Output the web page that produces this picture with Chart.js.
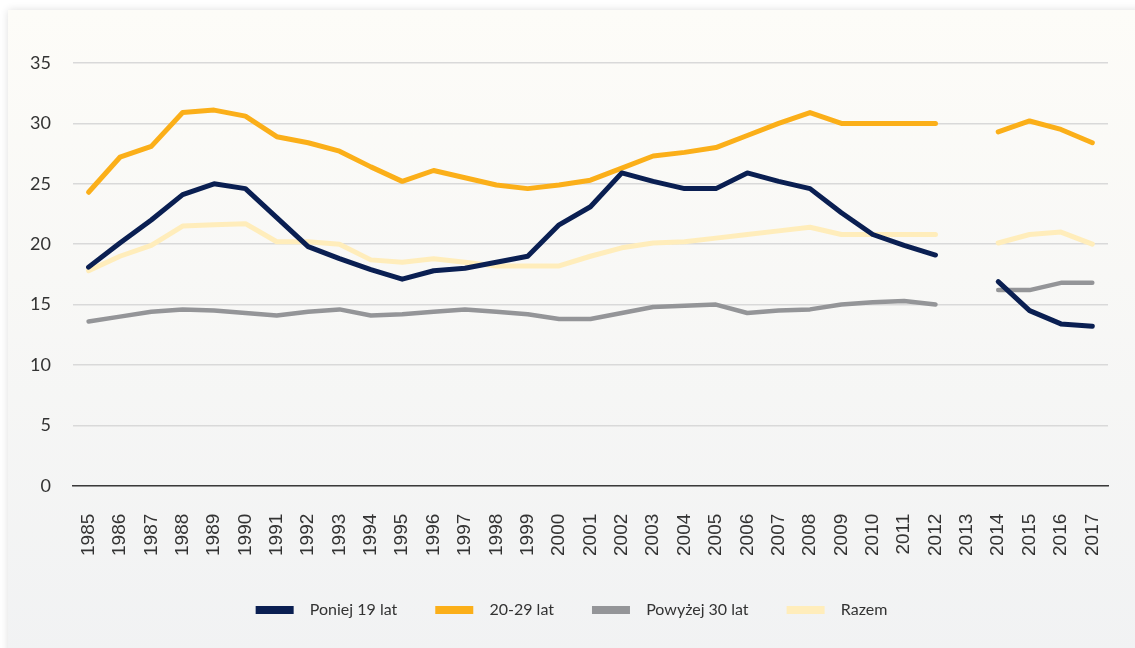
<!DOCTYPE html>
<html>
<head>
<meta charset="utf-8">
<script src="https://cdn.jsdelivr.net/npm/chart.js@4"></script>
<style>
  html, body { margin: 0; padding: 0; background: #ffffff; }
  #card {
    position: absolute; left: 8px; top: 10px; width: 1135px; height: 650px;
    background: linear-gradient(#fdfcf8, #f1f2f3);
    box-shadow: 0 0 8px rgba(0,0,0,0.13);
  }
  #wrap { position: absolute; left: 0; top: 0; width: 1135px; height: 648px; }
</style>
</head>
<body>
<div id="card"></div>
<div id="wrap"><canvas id="ageChart"></canvas></div>
<script>
// lata na osi x (2013 bez danych)
var years = ['1985','1986','1987','1988','1989','1990','1991','1992','1993','1994','1995','1996','1997','1998','1999','2000','2001','2002','2003','2004','2005','2006','2007','2008','2009','2010','2011','2012','2013','2014','2015','2016','2017'];
// serie
var under19 = [18.1,20.1,22.0,24.1,25.0,24.6,22.2,19.8,18.8,17.9,17.1,17.8,18.0,18.5,19.0,21.6,23.1,25.9,25.2,24.6,24.6,25.9,25.2,24.6,22.6,20.8,19.9,19.1,null,16.9,14.5,13.4,13.2];
var age2029 = [24.3,27.2,28.1,30.9,31.1,30.6,28.9,28.4,27.7,26.4,25.2,26.1,25.5,24.9,24.6,24.9,25.3,26.3,27.3,27.6,28.0,29.0,30.0,30.9,30.0,30.0,30.0,30.0,null,29.3,30.2,29.5,28.4];
var over30 = [13.6,14.0,14.4,14.6,14.5,14.3,14.1,14.4,14.6,14.1,14.2,14.4,14.6,14.4,14.2,13.8,13.8,14.3,14.8,14.9,15.0,14.3,14.5,14.6,15.0,15.2,15.3,15.0,null,16.2,16.2,16.8,16.8];
var total = [17.8,19.0,19.9,21.5,21.6,21.7,20.2,20.2,20.0,18.7,18.5,18.8,18.5,18.2,18.2,18.2,19.0,19.7,20.1,20.2,20.5,20.8,21.1,21.4,20.8,20.8,20.8,20.8,null,20.1,20.8,21.0,20.0];

function line(label, data, color, width) {
  return {
    label: label,
    data: data,
    borderColor: color,
    backgroundColor: color,
    borderWidth: width,
    borderCapStyle: 'round',
    borderJoinStyle: 'round',
    pointRadius: 0,
    tension: 0,
    spanGaps: false,
    fill: false
  };
}

var ctx = document.getElementById("ageChart");
var ageChart = new Chart(ctx, {
  type: 'line',
  data: {
    labels: years,
    datasets: [
      line('Poniej 19 lat', under19, '#0a1f52', 5),
      line('20-29 lat', age2029, '#fbaf19', 5),
      line('Powyżej 30 lat', over30, '#949598', 4.5),
      line('Razem', total, '#ffedbb', 5)
    ]
  },
  options: {
    responsive: true,
    maintainAspectRatio: false,
    animation: false,
    layout: { padding: { left: 8, right: 0, top: 63, bottom: 20 } },
    plugins: {
      tooltip: { enabled: false },
      legend: {
        position: 'bottom',
        labels: {
          boxWidth: 38,
          boxHeight: 8,
          padding: 38,
          color: '#333333',
          font: { family: 'Lato', size: 16 },
          generateLabels: function(chart) {
            var items = Chart.defaults.plugins.legend.labels.generateLabels(chart);
            items.forEach(function(it) { it.text = '  ' + it.text; it.lineWidth = 0; });
            return items;
          }
        }
      }
    },
    scales: {
      x: {
        offset: true,
        grid: { display: false, drawTicks: false },
        border: { display: true, color: '#3a3a3a', width: 1.5 },
        ticks: {
          autoSkip: false,
          maxRotation: 90,
          minRotation: 90,
          padding: 28,
          color: '#333333',
          font: { family: 'Liberation Sans', size: 19 }
        },
        afterFit: function(scale) {
          // padding counts twice in the axis height, take most of the lower one back
          scale.height -= 20;
          // plot ends 27px before the right edge
          scale.paddingRight = 27;
        }
      },
      y: {
        min: 0,
        max: 35,
        grid: { color: '#d9d9d9', lineWidth: 1.5, drawTicks: false },
        border: { display: false },
        ticks: {
          stepSize: 5,
          padding: 22,
          color: '#333333',
          font: { family: 'Lato', size: 18 }
        }
      }
    }
  }
});
</script>
</body>
</html>
